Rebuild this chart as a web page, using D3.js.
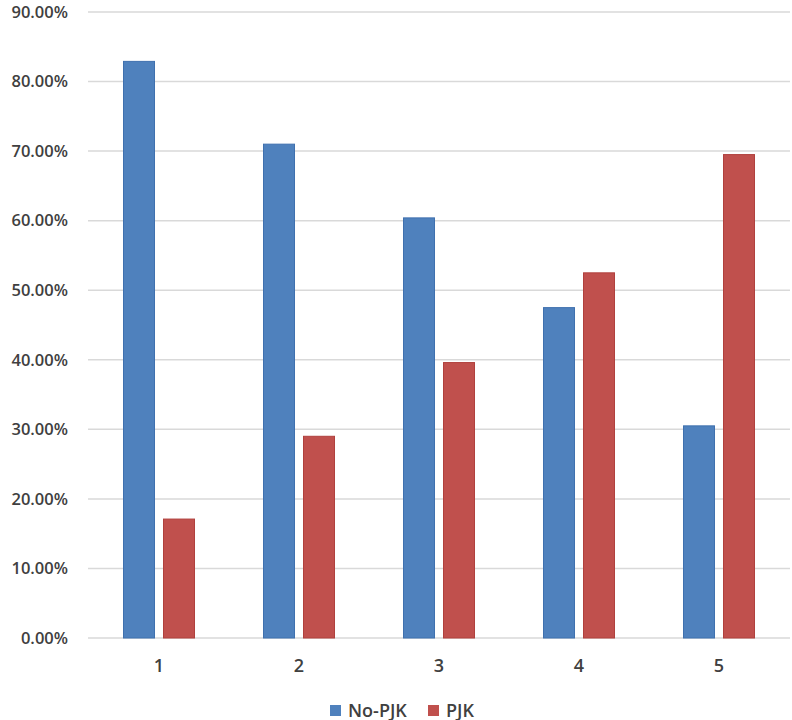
<!DOCTYPE html>
<html><head><meta charset="utf-8">
<script src="https://cdn.jsdelivr.net/npm/d3@7"></script>
<style>body{margin:0;background:#fff;}svg{display:block;font-family:"Open Sans",sans-serif;}</style>
</head><body>
<svg id="c" width="792" height="720"></svg>
<script>
const categories = ["1","2","3","4","5"];
const seriesNames = ["No-PJK","PJK"];
const noPJK = [0.829, 0.710, 0.604, 0.475, 0.305];
const pjk = [0.171, 0.290, 0.396, 0.525, 0.695];
const yTicks = [0,0.1,0.2,0.3,0.4,0.5,0.6,0.7,0.8,0.9];
const colors = ["#4F81BD","#C0504D"];
const strokes = ["#3F70AE","#B0403D"];

const svg = d3.select("#c");
const x = d3.scaleBand().domain(categories).range([89,789]).padding(0);
const y = d3.scaleLinear().domain([0,0.9]).range([638,12]);
const x1 = d3.scaleBand().domain(seriesNames).range([-36,36]).paddingInner(0.2).paddingOuter(0);

// gridlines
svg.append("g").selectAll("line").data(yTicks).join("line")
  .attr("x1",88).attr("x2",790)
  .attr("y1",d=>y(d)).attr("y2",d=>y(d))
  .attr("stroke","#d9d9d9").attr("stroke-width",1.5);

// y labels
const yAxis = d3.axisLeft(y).tickValues(yTicks).tickFormat(d=>(d*100).toFixed(2)+"%").tickSize(0).tickPadding(0);
const ya = svg.append("g").attr("transform","translate(68,0)").call(yAxis);
ya.select(".domain").remove();
ya.selectAll("text").attr("font-size",16.5).attr("font-weight",600).attr("fill","#404040").attr("font-family","Open Sans");

// bars
const data = [noPJK, pjk];
data.forEach((vals,si)=>{
  svg.append("g").selectAll("rect").data(categories).join("rect")
    .attr("x",(c)=>x(c)+x.bandwidth()/2+x1(seriesNames[si])+0.5)
    .attr("width",x1.bandwidth()-1)
    .attr("y",(c,i)=>y(vals[i]))
    .attr("height",(c,i)=>y(0)-y(vals[i]))
    .attr("fill",colors[si]).attr("stroke",strokes[si]).attr("stroke-width",1);
});

// x labels
const xAxis = d3.axisBottom(x).tickSize(0).tickPadding(0);
const xa = svg.append("g").attr("transform","translate(0,672)").call(xAxis);
xa.select(".domain").remove();
xa.selectAll("text").attr("dy",0).attr("font-size",18).attr("font-weight",600).attr("fill","#404040").attr("font-family","Open Sans");

// legend
const legX = [330, 428];
seriesNames.forEach((n,i)=>{
  const g = svg.append("g").attr("transform",`translate(${legX[i]},705)`);
  g.append("rect").attr("width",11).attr("height",11).attr("fill",colors[i]);
  g.append("text").attr("x",18).attr("y",11.5).attr("font-size",18).attr("font-weight",600)
    .attr("fill","#404040").text(n);
});
</script>
</body></html>
